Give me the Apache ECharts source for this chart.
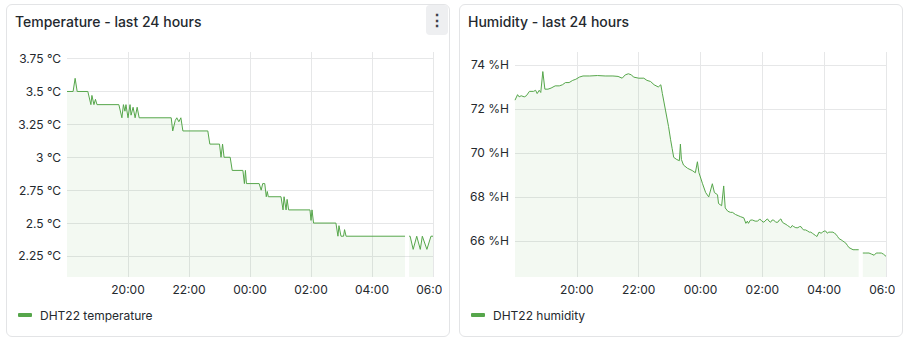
<!DOCTYPE html>
<html>
<head>
<meta charset="utf-8">
<script src="https://cdn.jsdelivr.net/npm/echarts@6/dist/echarts.min.js"></script>
<style>
  body { margin: 0; background: #fff; font-family: Inter, sans-serif; }
  .panel { position: absolute; top: 4px; width: 442px; height: 331px; border: 1px solid #e3e4e6; border-radius: 6px; background: #fff; }
  .chart { position: absolute; left: 0; top: 0; width: 435px; height: 331px; }
  .menu { position: absolute; right: 1px; top: 0px; width: 22px; height: 30px; background: #eeeff1; border-radius: 4px; color: #3d4148; font-size: 16px; line-height: 30px; text-align: center; font-weight: 700; }
</style>
</head>
<body>
<div class="panel" style="left:6px"><div id="temp" class="chart"></div><div class="menu">&#8942;</div></div>
<div class="panel" style="left:459px"><div id="hum" class="chart"></div></div>
<script>
// minutes after 18:00
let tickLabels = ['18:00', '20:00', '22:00', '00:00', '02:00', '04:00', '06:00'];

let tempTime = [0, 12, 16, 20, 41, 47, 49, 53, 56, 59, 102, 108, 111, 114, 116, 120, 124, 126, 130, 134, 138, 142,
	205, 208, 213, 216, 220, 224, 228, 277, 281, 300, 303, 306, 309, 321, 325, 346, 349, 351, 353,
	378, 382, 385, 389, 392, 394, 396, 421, 425, 427, 431, 433, 436, 478, 480, 482, 485,
	529, 533, 535, 539, 544, 546, 549, 665, 668, 673, 675, 681, 688, 695, 699, 708, 716, 720];
let tempValue = [3.5, 3.5, 3.6, 3.5, 3.5, 3.4, 3.47, 3.4, 3.44, 3.4, 3.4, 3.3, 3.4, 3.35, 3.4, 3.3, 3.4, 3.32, 3.38, 3.3, 3.38, 3.3,
	3.3, 3.2, 3.28, 3.3, 3.27, 3.3, 3.2, 3.2, 3.1, 3.1, 3.0, 3.1, 3.0, 3.0, 2.9, 2.9, 2.8, 2.9, 2.8,
	2.8, 2.75, 2.8, 2.8, 2.7, 2.74, 2.7, 2.7, 2.6, 2.7, 2.6, 2.68, 2.6, 2.6, 2.52, 2.6, 2.5,
	2.5, 2.4, 2.48, 2.4, 2.4, 2.45, 2.4, 2.4, null, 2.4, 2.4, 2.3, 2.4, 2.3, 2.4, 2.3, 2.4, 2.4];
let tempTicks = [2.25, 2.5, 2.75, 3, 3.25, 3.5, 3.75];

let humTime = [0, 5, 8, 12, 18, 22, 28, 36, 40, 43, 47, 50, 54, 58, 64, 70, 78, 86, 92, 98, 105, 112, 118, 125, 132, 145,
	160, 175, 190, 200, 208, 214, 220, 226, 230, 240, 250, 256, 263, 270, 278, 283, 286, 292, 298, 302, 305, 308,
	314, 319, 321, 323, 327, 335, 344, 350, 354, 357, 364, 370, 376, 383, 387, 393, 395, 401, 405, 408, 413, 418,
	422, 428, 433, 438, 444, 448, 451, 453, 457, 461, 466, 471, 475, 479, 483, 487, 490, 493, 496, 499, 502, 506,
	510, 513, 516, 519, 522, 526, 529, 532, 535, 538, 541, 545, 549, 552, 555, 558, 560, 564, 568, 571, 574, 577,
	580, 583, 586, 590, 594, 597, 600, 603, 606, 609, 613, 617, 620, 623, 626, 629, 633, 636, 639, 642, 645, 648,
	652, 656, 660, 667, 670, 675, 681, 687, 692, 697, 701, 706, 711, 715, 720];
let humValue = [72.4, 72.65, 72.55, 72.6, 72.55, 72.6, 72.8, 72.8, 72.85, 72.7, 72.85, 72.75, 73.7, 72.9, 72.9, 72.95, 73.05, 73.05, 73.1, 73.2, 73.2, 73.3, 73.35, 73.45, 73.5, 73.5,
	73.52, 73.5, 73.5, 73.48, 73.4, 73.55, 73.6, 73.55, 73.45, 73.4, 73.4, 73.3, 73.25, 73.1, 73.0, 73.1, 72.7, 71.95, 71.2, 70.6, 70.2, 69.8,
	69.7, 69.65, 70.4, 69.7, 69.45, 69.3, 69.2, 69.1, 69.6, 69.1, 68.6, 68.2, 68.0, 68.6, 68.2, 68.1, 67.7, 67.6, 68.5, 67.5, 67.35, 67.3,
	67.3, 67.2, 67.15, 67.1, 67.05, 66.8, 66.9, 66.8, 66.95, 66.95, 66.9, 66.9, 67.0, 66.9, 66.85, 66.95, 67.0, 66.9, 66.85, 66.95, 66.95, 66.85,
	66.85, 66.95, 67.0, 66.85, 66.8, 66.75, 66.7, 66.65, 66.6, 66.7, 66.65, 66.6, 66.6, 66.65, 66.65, 66.55, 66.5, 66.5, 66.45, 66.4, 66.4, 66.35,
	66.3, 66.25, 66.2, 66.4, 66.35, 66.4, 66.45, 66.45, 66.35, 66.4, 66.4, 66.4, 66.35, 66.3, 66.2, 66.1, 66.05, 66.0, 65.95, 65.9, 65.8, 65.7,
	65.65, 65.6, 65.6, 65.6, null, 65.45, 65.45, 65.45, 65.4, 65.35, 65.45, 65.45, 65.45, 65.4, 65.3];
let humTicks = [66, 68, 70, 72, 74];

const green = '#56a64b';
const textColor = '#24292e';
const gridColor = '#e6e7e8';

function zip(xs, ys) {
	return xs.map((x, i) => [x, ys[i]]);
}

function buildOption(title, name, times, values, ticks, unit, yMin, yMax, gridLeft) {
	return {
		animation: false,
		textStyle: { fontFamily: 'Inter' },
		title: {
			text: title, left: 3, top: 4,
			textStyle: { fontSize: 14, fontWeight: 500, color: textColor, fontFamily: 'Inter' }
		},
		legend: {
			data: [name], left: 6, top: 299, icon: 'roundRect', itemWidth: 14, itemHeight: 4,
			textStyle: { fontSize: 12, color: textColor, fontFamily: 'Inter', padding: [0, 0, 0, 3] }
		},
		grid: { left: gridLeft, right: 9, top: 47, bottom: 59, outerBoundsMode: 'none', containLabel: false },
		xAxis: {
			type: 'value', min: 0, max: 720, interval: 120,
			axisLine: { show: false }, axisTick: { show: false },
			axisLabel: {
				showMinLabel: false, margin: 6, fontSize: 12, color: textColor,
				formatter: v => tickLabels[v / 120]
			},
			splitLine: { show: true, showMinLine: false, lineStyle: { color: gridColor } }
		},
		yAxis: {
			type: 'value', min: yMin, max: yMax,
			axisLine: { show: false },
			axisTick: { show: false, customValues: ticks },
			axisLabel: {
				customValues: ticks, margin: 6, fontSize: 12, color: textColor,
				formatter: v => v + ' ' + unit
			},
			splitLine: { show: true, lineStyle: { color: gridColor } }
		},
		series: [{
			name: name, type: 'line', data: zip(times, values),
			showSymbol: false, connectNulls: false,
			color: green,
			lineStyle: { width: 1, color: green },
			areaStyle: { color: 'rgba(86,166,75,0.1)' }
		}]
	};
}

let tempChart = echarts.init(document.getElementById('temp'), null, { renderer: 'svg' });
tempChart.setOption(buildOption('Temperature - last 24 hours', 'DHT22 temperature',
	tempTime, tempValue, tempTicks, '°C', 2.09, 3.80, 60));

let humChart = echarts.init(document.getElementById('hum'), null, { renderer: 'svg' });
humChart.setOption(buildOption('Humidity - last 24 hours', 'DHT22 humidity',
	humTime, humValue, humTicks, '%H', 64.36, 74.59, 55));
</script>
</body>
</html>
